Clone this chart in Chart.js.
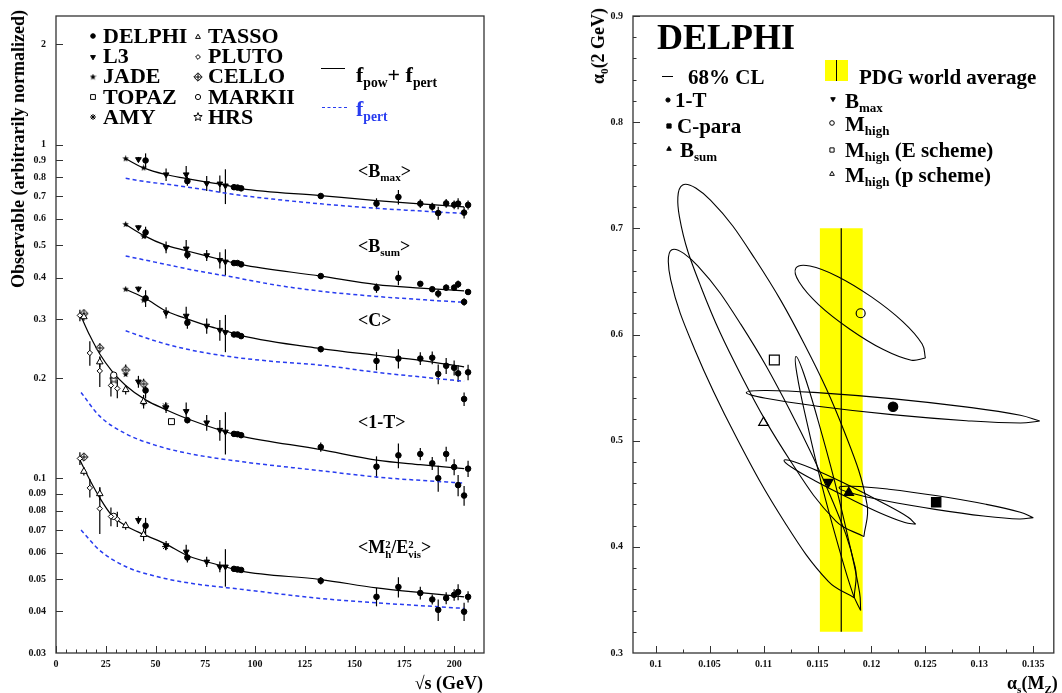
<!DOCTYPE html>
<html>
<head>
<meta charset="utf-8">
<script src="https://cdn.jsdelivr.net/npm/chart.js@4.4.1/dist/chart.umd.min.js"></script>
<style>
  html, body { margin: 0; padding: 0; background: #fff; }
  #page { position: relative; width: 1062px; height: 693px; overflow: hidden;
          font-family: "Liberation Serif", "Times New Roman", serif; font-weight: bold; color: #000; }
  canvas { position: absolute; top: 0; }
  #left { left: 0; }
  #right { left: 540px; }
  .t { position: absolute; white-space: nowrap; line-height: 1; transform: translateY(-50%); }
  .t sub, .rot sub { font-size: 0.62em; vertical-align: -0.38em; line-height: 0; }
  .rot { position: absolute; white-space: nowrap; line-height: 1; transform: translate(-50%, -50%) rotate(-90deg); }
  .ss { display: inline-block; font-size: 0.6em; line-height: 0.95; vertical-align: -0.5em; }
  .ss span { display: block; }
</style>
</head>
<body>
<div id="page">
  <canvas id="left" width="540" height="693"></canvas>
  <canvas id="right" width="522" height="693"></canvas>

  <!-- left panel legend -->
  <div class="t" style="left:103px;top:36px;font-size:22px">DELPHI</div>
  <div class="t" style="left:103px;top:56px;font-size:22px">L3</div>
  <div class="t" style="left:103px;top:76px;font-size:22px">JADE</div>
  <div class="t" style="left:103px;top:97px;font-size:22px">TOPAZ</div>
  <div class="t" style="left:103px;top:117px;font-size:22px">AMY</div>
  <div class="t" style="left:208px;top:36px;font-size:22px">TASSO</div>
  <div class="t" style="left:208px;top:56px;font-size:22px">PLUTO</div>
  <div class="t" style="left:208px;top:76px;font-size:22px">CELLO</div>
  <div class="t" style="left:208px;top:97px;font-size:22px">MARKII</div>
  <div class="t" style="left:208px;top:117px;font-size:22px">HRS</div>
  <div style="position:absolute;left:321px;top:68px;width:24px;border-top:1.3px solid #000"></div>
  <div class="t" style="left:356px;top:75px;font-size:22px">f<sub>pow</sub>+ f<sub>pert</sub></div>
  <div style="position:absolute;left:322px;top:107px;width:25px;border-top:1.5px dashed rgb(40,60,240)"></div>
  <div class="t" style="left:356px;top:109px;font-size:22px;color:rgb(40,60,240)">f<sub>pert</sub></div>

  <!-- observable labels -->
  <div class="t" style="left:358px;top:171px;font-size:18px">&lt;B<sub>max</sub>&gt;</div>
  <div class="t" style="left:358px;top:246px;font-size:18px">&lt;B<sub>sum</sub>&gt;</div>
  <div class="t" style="left:358px;top:320px;font-size:18px">&lt;C&gt;</div>
  <div class="t" style="left:358px;top:422px;font-size:18px">&lt;1-T&gt;</div>
  <div class="t" style="left:358px;top:549px;font-size:18px">&lt;M<span class="ss"><span>2</span><span>h</span></span>/E<span class="ss"><span>2</span><span>vis</span></span>&gt;</div>

  <!-- left axis titles -->
  <div class="rot" style="left:18px;top:149px;font-size:18px">Observable (arbitrarily normalized)</div>
  <div class="t" style="right:579px;top:683px;font-size:18px">√s (GeV)</div>

  <!-- right panel legend -->
  <div class="t" style="left:657px;top:37px;font-size:36px">DELPHI</div>
  <div style="position:absolute;left:662px;top:76px;width:11px;border-top:1.3px solid #000"></div>
  <div class="t" style="left:688px;top:77px;font-size:21px">68% CL</div>
  <div class="t" style="left:675px;top:100px;font-size:21px">1-T</div>
  <div class="t" style="left:677px;top:126px;font-size:21px">C-para</div>
  <div class="t" style="left:680px;top:150px;font-size:21px">B<sub>sum</sub></div>
  <div style="position:absolute;left:825px;top:60px;width:23px;height:21px;background:#ffff00"></div>
  <div style="position:absolute;left:836px;top:60px;width:1.3px;height:21px;background:#000"></div>
  <div class="t" style="left:859px;top:77px;font-size:21px">PDG world average</div>
  <div class="t" style="left:845px;top:101px;font-size:21px">B<sub>max</sub></div>
  <div class="t" style="left:845px;top:124px;font-size:21px">M<sub>high</sub></div>
  <div class="t" style="left:845px;top:150px;font-size:21px">M<sub>high</sub> (E scheme)</div>
  <div class="t" style="left:845px;top:175px;font-size:21px">M<sub>high</sub> (p scheme)</div>

  <!-- right axis titles -->
  <div class="rot" style="left:598px;top:46px;font-size:18px">α<sub>0</sub>(2 GeV)</div>
  <div class="t" style="left:1007px;top:683px;font-size:18px">α<sub>s</sub>(M<sub>Z</sub>)</div>
</div>

<script>
// ---------- left panel: event-shape means vs sqrt(s) ----------
const delphiE = [45, 66, 89.4, 91.2, 93, 133, 161, 172, 183, 189, 192, 196, 200, 202, 205, 207];
const l3E = [41.4, 55.3, 65.4, 75.7, 82.3, 85.1];
const jadeE = [35, 44];

// <B_max>
const bmaxDelphi = [0.897, 0.778, 0.746, 0.744, 0.740, 0.702, 0.666, 0.697, 0.666, 0.652, 0.624, 0.667, 0.661, 0.666, 0.626, 0.660];
const bmaxDelphiErr = [0.045, 0.025, 0.004, 0.003, 0.004, 0.012, 0.025, 0.035, 0.02, 0.018, 0.028, 0.02, 0.02, 0.025, 0.025, 0.02];
const bmaxL3 = [0.904, 0.814, 0.814, 0.766, 0.764, 0.754];
const bmaxL3Err = [0.015, 0.035, 0.05, 0.04, 0.045, 0.09];
const bmaxJade = [0.908, 0.852];
const bmaxFitE = [35, 44, 55, 65, 75, 85, 93, 133, 161, 183, 205];
const bmaxFit = [0.908, 0.852, 0.814, 0.793, 0.774, 0.757, 0.739, 0.704, 0.680, 0.665, 0.651];
const bmaxPertE = [35, 45, 55, 65, 75, 89, 110, 133, 161, 185, 205];
const bmaxPert = [0.793, 0.775, 0.762, 0.748, 0.733, 0.710, 0.686, 0.665, 0.645, 0.632, 0.622];

// <B_sum>
const bsumDelphi = [0.546, 0.468, 0.442, 0.442, 0.438, 0.404, 0.372, 0.399, 0.383, 0.369, 0.358, 0.373, 0.373, 0.382, 0.338, 0.362];
const bsumDelphiErr = [0.022, 0.014, 0.003, 0.002, 0.003, 0.006, 0.012, 0.02, 0.006, 0.006, 0.01, 0.008, 0.008, 0.01, 0.009, 0.007];
const bsumL3 = [0.565, 0.493, 0.488, 0.466, 0.451, 0.446];
const bsumL3Err = [0.008, 0.02, 0.03, 0.018, 0.025, 0.04];
const bsumJade = [0.577, 0.531];
const bsumFitE = [35, 44, 55, 65, 75, 85, 93, 133, 161, 183, 205];
const bsumFit = [0.577, 0.535, 0.500, 0.482, 0.465, 0.449, 0.437, 0.404, 0.381, 0.372, 0.365];
const bsumPertE = [35, 45, 55, 70, 89, 110, 133, 161, 185, 205];
const bsumPert = [0.464, 0.451, 0.438, 0.420, 0.401, 0.380, 0.364, 0.351, 0.343, 0.337];

// <C>
const cDelphi = [0.3465, 0.293, 0.270, 0.270, 0.267, 0.244, 0.225, 0.2287, 0.2287, 0.230, 0.2056, 0.2176, 0.2146, 0.2065, 0.173, 0.208];
const cDelphiErr = [0.02, 0.012, 0.002, 0.0015, 0.002, 0.005, 0.014, 0.015, 0.01, 0.01, 0.014, 0.012, 0.011, 0.012, 0.008, 0.011];
const cL3 = [0.370, 0.3136, 0.307, 0.2866, 0.2785, 0.274];
const cL3Err = [0.006, 0.012, 0.02, 0.015, 0.02, 0.035];
const cJade = [0.369, 0.342];
const cFitE = [35, 45, 55, 65, 75, 85, 93, 133, 161, 183, 205];
const cFit = [0.369, 0.346, 0.318, 0.302, 0.288, 0.277, 0.268, 0.245, 0.234, 0.226, 0.216];
const cPertE = [35, 45, 55, 70, 89, 110, 133, 161, 185, 205];
const cPert = [0.277, 0.264, 0.253, 0.241, 0.231, 0.224, 0.2185, 0.208, 0.201, 0.1955];

// <1-T>
const thrDelphi = [0.1836, 0.1495, 0.136, 0.1357, 0.1348, 0.1242, 0.1085, 0.1173, 0.1184, 0.111, 0.1002, 0.1184, 0.1082, 0.0955, 0.0889, 0.107];
const thrDelphiErr = [0.01, 0.003, 0.001, 0.001, 0.001, 0.004, 0.008, 0.01, 0.005, 0.005, 0.009, 0.006, 0.006, 0.007, 0.006, 0.006];
const thrL3 = [0.195, 0.163, 0.159, 0.147, 0.1397, 0.138];
const thrL3Err = [0.008, 0.006, 0.01, 0.008, 0.01, 0.02];
const thrJade = [0.205, 0.1686];
const thrTassoE = [14, 22, 35, 44];
const thrTasso = [0.305, 0.2234, 0.1845, 0.170];
const thrTassoErr = [0.008, 0.008, 0.006, 0.008];
const thrPlutoE = [12, 17, 22, 27.6, 30.8];
const thrPluto = [0.308, 0.2377, 0.210, 0.190, 0.186];
const thrPlutoErr = [0.012, 0.02, 0.022, 0.014, 0.012];
const thrCelloE = [14, 22, 35, 44];
const thrCello = [0.312, 0.246, 0.2115, 0.192];
const thrCelloErr = [0.008, 0.008, 0.008, 0.007];
const thrMarkE = [29];
const thrMark = [0.204];
const thrHrsE = [29];
const thrHrs = [0.198];
const thrTopazE = [58];
const thrTopaz = [0.148];
const thrAmyE = [55];
const thrAmy = [0.165];
const thrFitE = [13, 17, 22, 28, 35, 45, 55, 66, 85, 93, 133, 161, 183, 205];
const thrFit = [0.302, 0.268, 0.236, 0.21, 0.19, 0.172, 0.161, 0.151, 0.138, 0.134, 0.122, 0.1135, 0.110, 0.107];
const thrPertE = [12.6, 21.8, 35.2, 50.3, 67, 93.8, 133, 161, 183, 205];
const thrPert = [0.181, 0.154, 0.136, 0.1256, 0.1187, 0.1122, 0.1055, 0.1010, 0.0987, 0.0969];

// <M_h^2/E_vis^2>
const mhDelphi = [0.0722, 0.058, 0.0536, 0.0534, 0.0532, 0.0494, 0.0442, 0.0473, 0.0454, 0.0434, 0.0404, 0.0438, 0.0448, 0.0457, 0.0399, 0.0442];
const mhDelphiErr = [0.004, 0.002, 0.0004, 0.0003, 0.0004, 0.0013, 0.0028, 0.0033, 0.002, 0.0015, 0.003, 0.0018, 0.0018, 0.0025, 0.0025, 0.0017];
const mhL3 = [0.075, 0.063, 0.0603, 0.0563, 0.0544, 0.0544];
const mhL3Err = [0.002, 0.002, 0.003, 0.002, 0.002, 0.007];
const mhTassoE = [14, 22, 35, 44];
const mhTasso = [0.105, 0.090, 0.0722, 0.0679];
const mhTassoErr = [0.003, 0.004, 0.002, 0.003];
const mhPlutoE = [12, 17, 22, 27.6, 30.8];
const mhPluto = [0.1148, 0.0937, 0.0812, 0.0769, 0.0755];
const mhPlutoErr = [0.005, 0.006, 0.013, 0.005, 0.004];
const mhCelloE = [14];
const mhCello = [0.116];
const mhMarkE = [29];
const mhMark = [0.077];
const mhAmyE = [55];
const mhAmy = [0.0625];
const mhFitE = [12, 17, 22, 27.6, 35, 44, 55, 66, 85, 93, 133, 161, 183, 205];
const mhFit = [0.1135, 0.099, 0.0875, 0.0781, 0.0722, 0.068, 0.0637, 0.0588, 0.0544, 0.0528, 0.0498, 0.047, 0.0455, 0.0442];
const mhPertE = [12.6, 21.8, 35.2, 50.3, 67, 93.8, 133, 161, 183, 205];
const mhPert = [0.0701, 0.061, 0.0544, 0.0509, 0.0486, 0.0465, 0.0437, 0.0424, 0.0416, 0.0408];

const leftXTicks = [0, 25, 50, 75, 100, 125, 150, 175, 200];
const leftYTicks = [0.03, 0.04, 0.05, 0.06, 0.07, 0.08, 0.09, 0.1, 0.2, 0.3, 0.4, 0.5, 0.6, 0.7, 0.8, 0.9, 1, 2];

// ---------- right panel: fitted alpha_s(M_Z), alpha_0(2 GeV) ----------
const fitNames = ['1-T', 'C-para', 'B_sum', 'B_max', 'M_high', 'M_high (E scheme)', 'M_high (p scheme)'];
const fitAlphaS = [0.1220, 0.1260, 0.1179, 0.1160, 0.1190, 0.1110, 0.1100];
const fitAlpha0 = [0.532, 0.442, 0.451, 0.461, 0.620, 0.576, 0.517];

// 68% CL contours (alpha_s, alpha_0)
const cl1T_as = [0.1356, 0.1338, 0.1289, 0.1221, 0.1153, 0.1103, 0.1084, 0.1102, 0.1152, 0.1219, 0.1288, 0.1338, 0.1356];
const cl1T_a0 = [0.5185, 0.5240, 0.5316, 0.5394, 0.5450, 0.5473, 0.5454, 0.5399, 0.5322, 0.5245, 0.5188, 0.5166, 0.5185];
const clCpar_as = [0.1350, 0.1338, 0.1306, 0.1261, 0.1216, 0.1182, 0.1170, 0.1181, 0.1214, 0.1259, 0.1304, 0.1337, 0.1350];
const clCpar_a0 = [0.4275, 0.4326, 0.4401, 0.4481, 0.4543, 0.4571, 0.4558, 0.4507, 0.4431, 0.4353, 0.4290, 0.4262, 0.4275];
const clBsum_as = [0.1241, 0.1234, 0.1212, 0.1182, 0.1152, 0.1129, 0.1119, 0.1126, 0.1148, 0.1178, 0.1208, 0.1231, 0.1241];
const clBsum_a0 = [0.4213, 0.4279, 0.4406, 0.4564, 0.4707, 0.4799, 0.4815, 0.4749, 0.4620, 0.4464, 0.4319, 0.4229, 0.4213];
const clBmax_as = [0.1190, 0.1189, 0.1180, 0.1166, 0.1150, 0.1137, 0.1130, 0.1131, 0.1140, 0.1154, 0.1170, 0.1183, 0.1190];
const clBmax_a0 = [0.3400, 0.3568, 0.4012, 0.4612, 0.5208, 0.5640, 0.5793, 0.5624, 0.5181, 0.4581, 0.3984, 0.3552, 0.3400];
const clMh_as = [0.1250, 0.1247, 0.1229, 0.1200, 0.1169, 0.1143, 0.1130, 0.1133, 0.1151, 0.1180, 0.1211, 0.1237, 0.1250];
const clMh_a0 = [0.5778, 0.5910, 0.6121, 0.6354, 0.6545, 0.6645, 0.6626, 0.6494, 0.6282, 0.6050, 0.5858, 0.5758, 0.5778];
const clMhE_as = [0.1193, 0.1196, 0.1176, 0.1138, 0.1092, 0.1051, 0.1025, 0.1022, 0.1042, 0.1080, 0.1126, 0.1167, 0.1193];
const clMhE_a0 = [0.4096, 0.4394, 0.5056, 0.5906, 0.6713, 0.7263, 0.7409, 0.7110, 0.6448, 0.5600, 0.4792, 0.4242, 0.4096];
const clMhP_as = [0.1184, 0.1185, 0.1163, 0.1124, 0.1079, 0.1039, 0.1015, 0.1014, 0.1036, 0.1075, 0.1120, 0.1160, 0.1184];
const clMhP_a0 = [0.3521, 0.3807, 0.4456, 0.5294, 0.6095, 0.6646, 0.6799, 0.6513, 0.5864, 0.5027, 0.4225, 0.3674, 0.3521];

const pdgAlphaS = 0.1172;
const pdgBand = [0.1152, 0.1192];
const pdgRange = [0.32, 0.70];

const rightXTicks = [0.1, 0.105, 0.11, 0.115, 0.12, 0.125, 0.13, 0.135];
const rightYTicks = [0.3, 0.4, 0.5, 0.6, 0.7, 0.8, 0.9];

// ---------- helpers ----------
const PERT_BLUE = 'rgb(40,60,240)';
const tickFont = { family: 'Liberation Serif', size: 10, weight: 'bold' };

function pts(xs, ys) { return xs.map((v, i) => ({ x: v, y: ys[i] })); }

function glyph(size, draw) {
  const c = document.createElement('canvas');
  c.width = c.height = size;
  const g = c.getContext('2d');
  g.strokeStyle = '#000'; g.fillStyle = '#000'; g.lineWidth = 1;
  draw(g, size / 2);
  return c;
}
function starPath(g, c, r) {
  g.beginPath();
  for (let k = 0; k < 10; k++) {
    const a = -Math.PI / 2 + k * Math.PI / 5, rr = k % 2 ? r * 0.42 : r;
    g.lineTo(c + rr * Math.cos(a), c + rr * Math.sin(a));
  }
  g.closePath();
}
const jadeImg = glyph(7, (g, c) => { starPath(g, c, 3.4); g.fill(); });
const hrsImg = glyph(10, (g, c) => { starPath(g, c, 4.4); g.fillStyle = '#fff'; g.fill(); g.stroke(); });
const celloImg = glyph(10, (g, c) => {
  g.beginPath(); g.moveTo(c, 0.8); g.lineTo(9.2, c); g.lineTo(c, 9.2); g.lineTo(0.8, c); g.closePath();
  g.fillStyle = '#fff'; g.fill(); g.stroke();
  g.beginPath(); g.moveTo(c, 2); g.lineTo(c, 8); g.moveTo(2, c); g.lineTo(8, c); g.stroke();
});

const sDelphi = { pointStyle: 'circle', pointRadius: 2.8, pointBackgroundColor: '#000' };
const sL3 = { pointStyle: 'triangle', pointRotation: 180, pointRadius: 3.3, pointBackgroundColor: '#000' };
const sJade = { pointStyle: jadeImg };
const sTopaz = { pointStyle: 'rect', pointRadius: 4.2, pointBackgroundColor: '#fff' };
const sAmy = { pointStyle: 'star', pointRadius: 3.4 };
const sTasso = { pointStyle: 'triangle', pointRadius: 3.8, pointBackgroundColor: '#fff' };
const sPluto = { pointStyle: 'rectRot', pointRadius: 2.7, pointBackgroundColor: '#fff' };
const sCello = { pointStyle: celloImg };
const sMark = { pointStyle: 'circle', pointRadius: 3.2, pointBackgroundColor: '#fff' };
const sHrs = { pointStyle: hrsImg };

function marks(xs, ys, errs, style) {
  return Object.assign({
    data: pts(xs, ys), errors: errs, showLine: false,
    pointBorderColor: '#000', pointBorderWidth: 1, pointBackgroundColor: '#000', order: 0
  }, style);
}
function curve(xs, ys, color, dash, width) {
  return {
    data: pts(xs, ys), showLine: true, borderColor: color, borderWidth: width,
    borderDash: dash, pointRadius: 0, fill: false, cubicInterpolationMode: 'monotone', order: 5
  };
}
function fit(xs, ys) { return curve(xs, ys, '#000', [], 1.2); }
function pert(xs, ys) { return curve(xs, ys, PERT_BLUE, [4, 3], 1.5); }

// ---------- plugins ----------
const errorBars = {
  id: 'errorBars',
  beforeDatasetsDraw(chart) {
    const { ctx, chartArea: a, scales: { x, y } } = chart;
    ctx.save();
    ctx.beginPath(); ctx.rect(a.left, a.top, a.width, a.height); ctx.clip();
    ctx.strokeStyle = '#000'; ctx.lineWidth = 1.2;
    chart.data.datasets.forEach(ds => {
      if (!ds.errors) return;
      ds.data.forEach((p, j) => {
        const e = ds.errors[j];
        if (!e) return;
        const px = x.getPixelForValue(p.x);
        ctx.beginPath();
        ctx.moveTo(px, y.getPixelForValue(p.y - e));
        ctx.lineTo(px, y.getPixelForValue(p.y + e));
        ctx.stroke();
      });
    });
    ctx.restore();
  }
};

const frameTicks = {
  id: 'frameTicks',
  afterDatasetsDraw(chart, args, o) {
    const { ctx, chartArea: a, scales: { x, y } } = chart;
    ctx.save();
    ctx.strokeStyle = '#333'; ctx.lineWidth = 1;
    const tick = (axis, vals, len) => vals.forEach(v => {
      if (axis === 'x') {
        const p = Math.round(x.getPixelForValue(v)) + 0.5;
        if (p < a.left || p > a.right) return;
        ctx.beginPath(); ctx.moveTo(p, a.bottom); ctx.lineTo(p, a.bottom - len); ctx.stroke();
      } else {
        const p = Math.round(y.getPixelForValue(v)) + 0.5;
        if (p < a.top || p > a.bottom) return;
        ctx.beginPath(); ctx.moveTo(a.left, p); ctx.lineTo(a.left + len, p); ctx.stroke();
      }
    });
    tick('x', o.xMajor, 7); tick('x', o.xMinor, 3.5);
    tick('y', o.yMajor, 7); tick('y', o.yMinor, 3.5);
    ctx.lineWidth = 1.3;
    ctx.strokeRect(a.left, a.top, a.width, a.height);
    ctx.restore();
  }
};

const legendMarks = {
  id: 'legendMarks',
  afterDraw(chart, args, o) {
    const ctx = chart.ctx;
    (o.items || []).forEach(m => {
      ctx.save();
      ctx.fillStyle = m.fill || '#000'; ctx.strokeStyle = '#000'; ctx.lineWidth = 1;
      if (Chart.helpers && Chart.helpers.drawPoint) {
        Chart.helpers.drawPoint(ctx, { pointStyle: m.style, radius: m.r || 3, rotation: m.rot || 0, borderWidth: 1 }, m.x, m.y);
      } else {
        ctx.beginPath(); ctx.arc(m.x, m.y, m.r || 3, 0, 2 * Math.PI); ctx.fill(); ctx.stroke();
      }
      ctx.restore();
    });
  }
};

function axisOpts(extra) {
  return Object.assign({
    grid: { display: false, drawTicks: false },
    border: { display: false },
  }, extra);
}

// ---------- left chart ----------
const leftXMinor = [];
for (let v = 5; v <= 215; v += 5) if (v % 25) leftXMinor.push(v);

const leftSets = [
  // B_max
  fit(bmaxFitE, bmaxFit), pert(bmaxPertE, bmaxPert),
  marks(jadeE, bmaxJade, null, sJade),
  marks(l3E, bmaxL3, bmaxL3Err, sL3),
  marks(delphiE, bmaxDelphi, bmaxDelphiErr, sDelphi),
  // B_sum
  fit(bsumFitE, bsumFit), pert(bsumPertE, bsumPert),
  marks(jadeE, bsumJade, null, sJade),
  marks(l3E, bsumL3, bsumL3Err, sL3),
  marks(delphiE, bsumDelphi, bsumDelphiErr, sDelphi),
  // C
  fit(cFitE, cFit), pert(cPertE, cPert),
  marks(jadeE, cJade, null, sJade),
  marks(l3E, cL3, cL3Err, sL3),
  marks(delphiE, cDelphi, cDelphiErr, sDelphi),
  // 1-T
  fit(thrFitE, thrFit), pert(thrPertE, thrPert),
  marks(thrPlutoE, thrPluto, thrPlutoErr, sPluto),
  marks(thrTassoE, thrTasso, thrTassoErr, sTasso),
  marks(thrCelloE, thrCello, thrCelloErr, sCello),
  marks(thrMarkE, thrMark, null, sMark),
  marks(thrHrsE, thrHrs, null, sHrs),
  marks(jadeE, thrJade, null, sJade),
  marks(thrTopazE, thrTopaz, null, sTopaz),
  marks(thrAmyE, thrAmy, null, sAmy),
  marks(l3E, thrL3, thrL3Err, sL3),
  marks(delphiE, thrDelphi, thrDelphiErr, sDelphi),
  // M_h^2/E_vis^2
  fit(mhFitE, mhFit), pert(mhPertE, mhPert),
  marks(mhPlutoE, mhPluto, mhPlutoErr, sPluto),
  marks(mhTassoE, mhTasso, mhTassoErr, sTasso),
  marks(mhCelloE, mhCello, null, sCello),
  marks(mhMarkE, mhMark, null, sMark),
  marks(mhAmyE, mhAmy, null, sAmy),
  marks(l3E, mhL3, mhL3Err, sL3),
  marks(delphiE, mhDelphi, mhDelphiErr, sDelphi)
];

new Chart(document.getElementById('left'), {
  type: 'scatter',
  data: { datasets: leftSets },
  options: {
    responsive: false, animation: false, events: [],
    layout: { padding: { left: 0, right: 56, top: 5, bottom: 0 } },
    plugins: {
      legend: { display: false }, tooltip: { enabled: false },
      frameTicks: { xMajor: leftXTicks, xMinor: leftXMinor, yMajor: leftYTicks, yMinor: [] },
      legendMarks: { items: [
        { x: 93, y: 36, style: 'circle', r: 2.3 },
        { x: 93, y: 57, style: 'triangle', rot: 180, r: 2.8 },
        { x: 93, y: 77, style: jadeImg },
        { x: 93, y: 97, style: 'rect', r: 3.4, fill: '#fff' },
        { x: 93, y: 117, style: 'star', r: 3 },
        { x: 198, y: 37, style: 'triangle', r: 2.8, fill: '#fff' },
        { x: 198, y: 57, style: 'rectRot', r: 2.4, fill: '#fff' },
        { x: 198, y: 77, style: celloImg },
        { x: 198, y: 97, style: 'circle', r: 2.6, fill: '#fff' },
        { x: 198, y: 117, style: hrsImg }
      ] }
    },
    scales: {
      x: axisOpts({
        type: 'linear', min: 0, max: 215,
        ticks: { font: tickFont, color: '#111', padding: 5, autoSkip: false, maxRotation: 0, callback: v => String(v) },
        afterBuildTicks: s => { s.ticks = leftXTicks.map(v => ({ value: v })); },
        afterFit: s => { s.height = 40; }
      }),
      y: axisOpts({
        type: 'logarithmic', min: 0.03, max: 2.43,
        ticks: { font: tickFont, color: '#111', padding: 10, autoSkip: false, callback: v => String(v) },
        afterBuildTicks: s => { s.ticks = leftYTicks.map(v => ({ value: v })); },
        afterFit: s => { s.width = 56; }
      })
    }
  },
  plugins: [errorBars, frameTicks, legendMarks]
});

// ---------- right chart ----------
const rightXMinor = [0.1025, 0.1075, 0.1125, 0.1175, 0.1225, 0.1275, 0.1325];
const rightYMinor = [];
for (let v = 0.32; v < 0.9; v += 0.02) if (Math.abs(v * 10 - Math.round(v * 10)) > 0.01) rightYMinor.push(+v.toFixed(2));

const fitMarkStyles = [
  { pointStyle: 'circle', pointRadius: 4.7, pointBackgroundColor: '#000' },
  { pointStyle: 'rect', pointRadius: 6.6, pointBackgroundColor: '#000' },
  { pointStyle: 'triangle', pointRadius: 5.4, pointBackgroundColor: '#000' },
  { pointStyle: 'triangle', pointRotation: 180, pointRadius: 5.4, pointBackgroundColor: '#000' },
  { pointStyle: 'circle', pointRadius: 4.5, pointBackgroundColor: 'rgba(0,0,0,0)' },
  { pointStyle: 'rect', pointRadius: 7, pointBackgroundColor: 'rgba(0,0,0,0)' },
  { pointStyle: 'triangle', pointRadius: 5.6, pointBackgroundColor: 'rgba(0,0,0,0)' }
];
const contours = [
  [cl1T_as, cl1T_a0], [clCpar_as, clCpar_a0], [clBsum_as, clBsum_a0], [clBmax_as, clBmax_a0],
  [clMh_as, clMh_a0], [clMhE_as, clMhE_a0], [clMhP_as, clMhP_a0]
];

const rightSets = [];
fitNames.forEach((name, i) => {
  rightSets.push(Object.assign({
    label: name, data: [{ x: fitAlphaS[i], y: fitAlpha0[i] }], showLine: false,
    pointBorderColor: '#000', pointBorderWidth: 1.2, order: 0
  }, fitMarkStyles[i]));
});
contours.forEach(([xs, ys], i) => {
  rightSets.push({
    label: fitNames[i] + ' 68% CL', data: pts(xs, ys), showLine: true, tension: 0.4,
    borderColor: '#000', borderWidth: 1.1, pointRadius: 0, fill: false, order: 1
  });
});
rightSets.push({
  label: 'PDG', data: pts([pdgAlphaS, pdgAlphaS], pdgRange), showLine: true,
  borderColor: '#000', borderWidth: 1.2, pointRadius: 0, fill: false, order: 2
});
rightSets.push({
  label: 'PDG band', data: pts(pdgBand, [pdgRange[1], pdgRange[1]]), showLine: true,
  borderColor: 'rgba(0,0,0,0)', borderWidth: 0, pointRadius: 0,
  backgroundColor: '#ffff00', fill: { value: pdgRange[0] }, order: 3
});

new Chart(document.getElementById('right'), {
  type: 'scatter',
  data: { datasets: rightSets },
  options: {
    responsive: false, animation: false, events: [],
    layout: { padding: { left: 0, right: 1, top: 5, bottom: 0 } },
    plugins: {
      legend: { display: false }, tooltip: { enabled: false },
      frameTicks: { xMajor: rightXTicks, xMinor: rightXMinor, yMajor: rightYTicks, yMinor: rightYMinor },
      legendMarks: { items: [
        { x: 128, y: 100, style: 'circle', r: 2.1 },
        { x: 129, y: 126, style: 'rect', r: 3 },
        { x: 129, y: 149, style: 'triangle', r: 2.6 },
        { x: 293, y: 99, style: 'triangle', rot: 180, r: 2.6 },
        { x: 292, y: 123, style: 'circle', r: 2.3, fill: 'rgba(0,0,0,0)' },
        { x: 292, y: 150, style: 'rect', r: 3, fill: 'rgba(0,0,0,0)' },
        { x: 292, y: 174, style: 'triangle', r: 2.7, fill: 'rgba(0,0,0,0)' }
      ] }
    },
    scales: {
      x: axisOpts({
        type: 'linear', min: 0.0979, max: 0.1369,
        ticks: { font: tickFont, color: '#111', padding: 5, autoSkip: false, maxRotation: 0, callback: v => String(v) },
        afterBuildTicks: s => { s.ticks = rightXTicks.map(v => ({ value: v })); },
        afterFit: s => { s.height = 40; }
      }),
      y: axisOpts({
        type: 'linear', min: 0.3, max: 0.9,
        ticks: { font: tickFont, color: '#111', padding: 10, autoSkip: false, callback: v => String(v) },
        afterBuildTicks: s => { s.ticks = rightYTicks.map(v => ({ value: v })); },
        afterFit: s => { s.width = 93; }
      })
    }
  },
  plugins: [errorBars, frameTicks, legendMarks]
});
</script>
</body>
</html>
